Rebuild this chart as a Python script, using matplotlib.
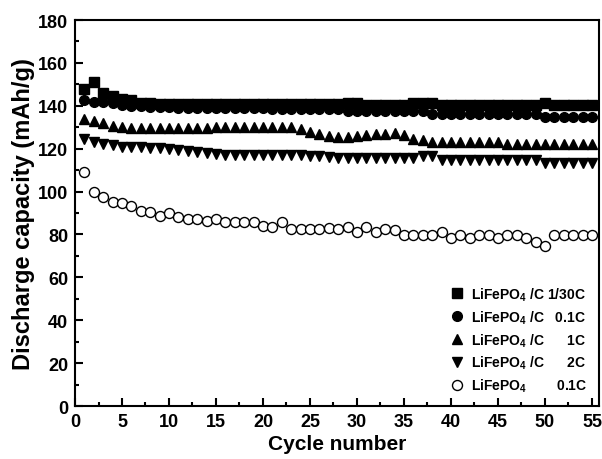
import numpy as np
import matplotlib
matplotlib.use('Agg')
import matplotlib.pyplot as plt

plt.rcParams['font.family'] = ['Liberation Sans', 'DejaVu Sans']
plt.rcParams['font.weight'] = 'bold'
plt.rcParams['mathtext.default'] = 'regular'

# cycle numbers
cycles = np.arange(1, 56)

# LiFePO4/C at 1/30C
cap_c30 = [148, 151, 146, 144.5, 143, 142.5, 141.5, 141.5, 141, 141,
           141, 141, 141, 141, 141, 141, 141, 141, 141, 141,
           141, 141, 141, 141, 141, 141, 141, 141, 141.5, 141.5,
           140.5, 140.5, 140.5, 140.5, 140.5, 141.5, 141.5, 141.5, 140.5, 140.5,
           140.5, 140.5, 140.5, 140.5, 140.5, 140.5, 140.5, 140.5, 140.5, 141.5,
           140.5, 140.5, 140.5, 140.5, 140.5]
# LiFePO4/C at 0.1C
cap_01 = [142.5, 142, 142, 141.5, 140.5, 140, 140, 139.5, 139.5, 139.5,
          139, 139, 139, 139, 139, 139, 139, 139, 139, 139,
          138.5, 138.5, 138.5, 138.5, 138.5, 138.5, 138.5, 138.5, 137.5, 137.5,
          137.5, 137.5, 137.5, 137.5, 137.5, 137.5, 137.5, 136, 136, 136,
          136, 136, 136, 136, 136, 136, 136, 136, 136, 135,
          135, 135, 135, 135, 135]
# LiFePO4/C at 1C
cap_1 = [134, 133, 132, 130.5, 130, 129.5, 129.5, 129.5, 129.5, 129.5,
         129.5, 129.5, 129.5, 129.5, 130, 130, 130, 130, 130, 130,
         130, 130, 130, 129, 128, 127, 126, 125.5, 125.5, 126,
         126.5, 127, 127, 127.5, 126.5, 124.5, 124, 123, 123, 123,
         123, 123, 123, 123, 123, 122, 122, 122, 122, 122,
         122, 122, 122, 122, 122]
# LiFePO4/C at 2C
cap_2 = [124.5, 123, 122, 121.5, 121, 121, 121, 120.5, 120.5, 120,
         119.5, 119, 118.5, 118, 117.5, 117, 117, 117, 117, 117,
         117, 117, 117, 117, 116.5, 116.5, 116, 115.5, 115.5, 115.5,
         115.5, 115.5, 115.5, 115.5, 115.5, 115.5, 116.5, 116.5, 114.5, 114.5,
         114.5, 114.5, 114.5, 114.5, 114.5, 114.5, 114.5, 114.5, 114.5, 113.5,
         113.5, 113.5, 113.5, 113.5, 113.5]
# bare LiFePO4 at 0.1C
cap_bare = [109, 100, 97.3, 95.3, 94.5, 93.4, 91.1, 90.6, 88.8, 90,
            88, 87.2, 87.2, 86.1, 87, 85.7, 85.7, 85.7, 85.7, 84.1,
            83.6, 85.7, 82.5, 82.5, 82.5, 82.5, 83, 82.5, 83.3, 81.3,
            83.3, 81.3, 82.5, 82, 79.8, 79.6, 79.8, 79.8, 81, 78.4,
            79.8, 78.3, 79.6, 79.6, 78.4, 79.6, 79.6, 78.4, 76.3, 74.5,
            79.6, 79.6, 79.6, 79.6, 79.6]

labels = ['LiFePO$_4$ /C 1/30C',
          'LiFePO$_4$ /C   0.1C',
          'LiFePO$_4$ /C      1C',
          'LiFePO$_4$ /C      2C',
          'LiFePO$_4$        0.1C']

fig = plt.figure(figsize=(6.02, 4.60), dpi=100)
ax = fig.add_axes([0.1246, 0.1152, 0.8704, 0.8391])

ax.plot(cycles, cap_c30, 's', color='black', ms=6.5, ls='none', label=labels[0])
ax.plot(cycles, cap_01, 'o', color='black', ms=7, ls='none', label=labels[1])
ax.plot(cycles, cap_1, '^', color='black', ms=7.5, ls='none', label=labels[2])
ax.plot(cycles, cap_2, 'v', color='black', ms=7.5, ls='none', label=labels[3])
ax.plot(cycles, cap_bare, 'o', mfc='white', mec='black', mew=1.0, ms=7.2,
        ls='none', label=labels[4])

ax.set_xlim(0, 55.75)
ax.set_ylim(0, 180)
ax.set_xticks(np.arange(0, 56, 5))
ax.set_xticks(np.arange(0, 56, 2.5), minor=True)
ax.set_yticks(np.arange(0, 181, 20))
ax.set_yticks(np.arange(0, 181, 10), minor=True)
ax.tick_params(which='both', direction='in', top=False, right=False,
               labelsize=13, width=1.5)
ax.tick_params(which='major', length=5.5, pad=5)
ax.tick_params(which='minor', length=3)
for s in ax.spines.values():
    s.set_linewidth(1.5)

ax.set_xlabel('Cycle number', fontsize=15, fontweight='bold', labelpad=3)
ax.set_ylabel('Discharge capacity (mAh/g)', fontsize=17, fontweight='bold', labelpad=2)

ax.legend(loc='lower right', bbox_to_anchor=(0.978, 0.03), frameon=False,
          borderpad=0, borderaxespad=0, handlelength=1.0, handletextpad=0.5,
          labelspacing=0.4, prop={'size': 10, 'weight': 'bold'})

fig.savefig('out.png', dpi=100)
